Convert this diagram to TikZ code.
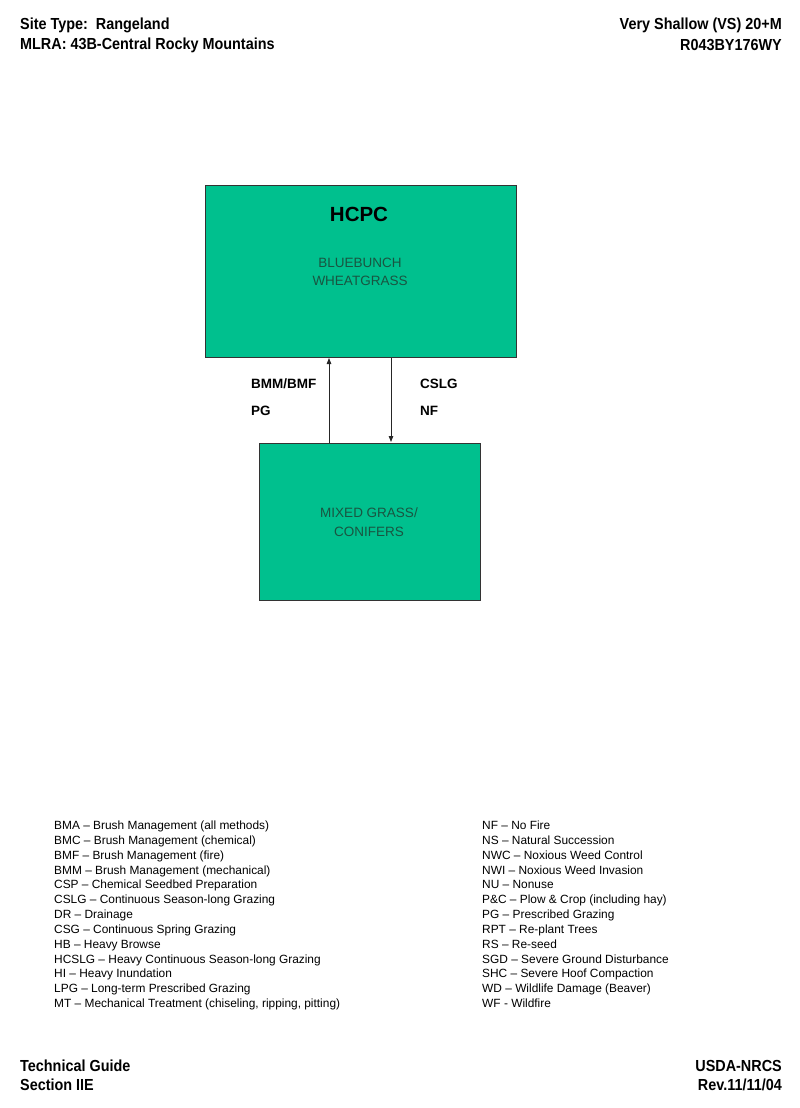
\documentclass[tikz,border=0pt]{standalone}
\usepackage{fontspec}
\setmainfont{Liberation Sans}
\newfontfamily\narrowbold[FakeStretch=0.9]{Liberation Sans Bold}
\usetikzlibrary{arrows.meta}
\definecolor{boxgreen}{RGB}{0,192,142}
\definecolor{boxtext}{RGB}{25,85,65}
\begin{document}
\begin{tikzpicture}[x=1pt,y=-1pt,
  statebox/.style={draw=black!80,line width=1pt,fill=boxgreen},
  hdr/.style={font=\narrowbold\fontsize{16}{18}\selectfont,inner sep=0pt},
  trans/.style={font=\bfseries\fontsize{13.5}{15}\selectfont,inner sep=0pt,anchor=west},
  boxlbl/.style={font=\fontsize{13.5}{18.5}\selectfont,text=boxtext,align=center,inner sep=0pt},
  leg/.style={font=\fontsize{11.9}{14.83}\selectfont,inner sep=0pt,anchor=base west,align=left},
  conn/.style={draw=black!85,line width=0.8pt,-{Triangle[length=6pt,width=4.5pt]}}]
\useasboundingbox (0,0) rectangle (800,1108);
% header
\node[hdr,anchor=west] (h1) at (20,25) {Site Type:\ \ Rangeland};
\node[hdr,anchor=west] (h2) at (20,45) {MLRA: 43B-Central Rocky Mountains};
\node[hdr,anchor=east] (h3) at (782,25) {Very Shallow (VS) 20+M};
\node[hdr,anchor=east] (h4) at (782,45) {R043BY176WY};
% boxes
\draw[statebox] (205,185) rectangle (516,357);
\node[font=\bfseries\fontsize{20.5}{22}\selectfont,inner sep=0pt] (hcpc) at (359,214) {HCPC};
\node[boxlbl] (blue) at (360,272) {BLUEBUNCH\\WHEATGRASS};
\draw[statebox] (259,443) rectangle (480,600);
\node[boxlbl] (mixed) at (369,522) {MIXED GRASS/\\CONIFERS};
% connectors
\coordinate (upA) at (329,443);
\coordinate (upB) at (329,358);
\coordinate (dnA) at (391,358);
\coordinate (dnB) at (391,442);
\draw[conn] (upA) -- (upB);
\draw[conn] (dnA) -- (dnB);
\node[trans] (l1) at (251,384) {BMM/BMF};
\node[trans] (l2) at (251,411) {PG};
\node[trans] (l3) at (420,384) {CSLG};
\node[trans] (l4) at (420,411) {NF};
% legend
\node[leg] (legL) at (54,1007.5) {BMA -- Brush Management (all methods)\\
BMC -- Brush Management (chemical)\\
BMF -- Brush Management (fire)\\
BMM -- Brush Management (mechanical)\\
CSP -- Chemical Seedbed Preparation\\
CSLG -- Continuous Season-long Grazing\\
DR -- Drainage\\
CSG -- Continuous Spring Grazing\\
HB -- Heavy Browse\\
HCSLG -- Heavy Continuous Season-long Grazing\\
HI -- Heavy Inundation\\
LPG -- Long-term Prescribed Grazing\\
MT -- Mechanical Treatment (chiseling, ripping, pitting)};
\node[leg] (legR) at (482,1007.5) {NF -- No Fire\\
NS -- Natural Succession\\
NWC -- Noxious Weed Control\\
NWI -- Noxious Weed Invasion\\
NU -- Nonuse\\
P\&C -- Plow \& Crop (including hay)\\
PG -- Prescribed Grazing\\
RPT -- Re-plant Trees\\
RS -- Re-seed\\
SGD -- Severe Ground Disturbance\\
SHC -- Severe Hoof Compaction\\
WD -- Wildlife Damage (Beaver)\\
WF - Wildfire};
% footer
\node[hdr,anchor=west] (f1) at (20,1066) {Technical Guide};
\node[hdr,anchor=west] (f2) at (20,1085) {Section IIE};
\node[hdr,anchor=east] (f3) at (782,1066) {USDA-NRCS};
\node[hdr,anchor=east] (f4) at (782,1085) {Rev.11/11/04};
\end{tikzpicture}
\end{document}
